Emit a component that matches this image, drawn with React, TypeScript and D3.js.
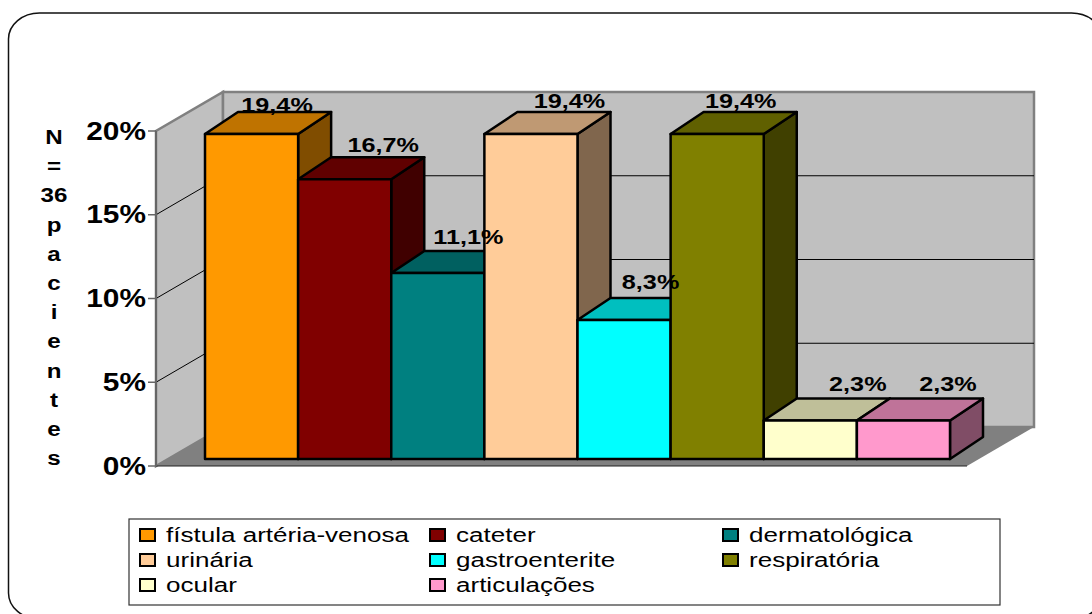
import React from "react";
import * as d3 from "d3";

const categories = [
  "fístula artéria-venosa",
  "cateter",
  "dermatológica",
  "urinária",
  "gastroenterite",
  "respiratória",
  "ocular",
  "articulações",
];
const values = [19.4, 16.7, 11.1, 19.4, 8.3, 19.4, 2.3, 2.3];
const valueLabels = ["19,4%", "16,7%", "11,1%", "19,4%", "8,3%", "19,4%", "2,3%", "2,3%"];
const barColors = ["#FF9900", "#800000", "#008080", "#FFCC99", "#00FFFF", "#808000", "#FFFFCC", "#FF99CC"];
const ticks = [0, 5, 10, 15, 20];
const titleLines = ["N", "=", "36", "p", "a", "c", "i", "e", "n", "t", "e", "s"];

// label nudges, the original chart placed them unevenly
const labelDx = [9, 22, 14, 22, 10, 7, 31, 28];
const labelDy = [-21, -26, -28, -25, -30, -25, -28, -28];

const width = 1092;
const height = 614;

// box geometry
const wallLeft = 156;
const wallRight = 967;
const axisBottom = 466;
const axisTop = 131;
const depthX = 67;
const depthY = -39;
const barBase = 459;
const barDepthX = 33;
const barDepthY = -22;

const shade = (c: string, k: number) => {
  const rgb = d3.rgb(c);
  return d3.rgb(rgb.r * k, rgb.g * k, rgb.b * k).formatHex();
};

const poly = (pts: [number, number][]) => d3.line()(pts) + "Z";

// the source picture is stretched sideways, so text is too
const Stretched = ({ x, y, sx, anchor, size, weight, children }: any) => (
  <text
    transform={`translate(${x},${y}) scale(${sx},1)`}
    textAnchor={anchor}
    fontSize={size}
    fontWeight={weight}
    fontFamily="'Liberation Sans', Arial, sans-serif"
    fill="#000"
  >
    {children}
  </text>
);

export default function App() {
  const axisY = d3.scaleLinear().domain([0, 20]).range([axisBottom, axisTop]);
  const barH = axisBottom - axisTop;
  const barY = d3.scaleLinear().domain([0, 20]).range([barBase, barBase - barH]);
  const x = d3.scaleBand().domain(categories).range([205, 950]).padding(0);

  const legendX = [140, 430, 723];
  const legendY = [529, 554, 579];

  return (
    <svg
      width={width}
      height={height}
      viewBox={`0 0 ${width} ${height}`}
      style={{ position: "absolute", left: 0, top: 0, background: "#fff" }}
    >
      <rect x={8.5} y={13} width={1094} height={606} rx={31} ry={26} fill="#fff" stroke="#111" strokeWidth={1.5} />

      {/* walls and floor */}
      <path
        d={poly([
          [wallLeft, axisBottom],
          [wallLeft, axisTop],
          [wallLeft + depthX, axisTop + depthY],
          [wallLeft + depthX, axisBottom + depthY],
        ])}
        fill="#C0C0C0"
        stroke="#808080"
        strokeWidth={2.5}
      />
      <path
        d={poly([
          [wallLeft + depthX, axisTop + depthY],
          [wallRight + depthX, axisTop + depthY],
          [wallRight + depthX, axisBottom + depthY],
          [wallLeft + depthX, axisBottom + depthY],
        ])}
        fill="#C0C0C0"
        stroke="#808080"
        strokeWidth={2.5}
      />
      <path
        d={poly([
          [wallLeft, axisBottom],
          [wallLeft + depthX, axisBottom + depthY],
          [wallRight + depthX, axisBottom + depthY],
          [wallRight, axisBottom],
        ])}
        fill="#808080"
      />

      {/* gridlines */}
      {ticks.slice(1, -1).map((t) => (
        <path
          key={t}
          d={
            d3.line()([
              [wallLeft, axisY(t)],
              [wallLeft + depthX, axisY(t) + depthY],
              [wallRight + depthX, axisY(t) + depthY],
            ]) as string
          }
          fill="none"
          stroke="#000"
          strokeWidth={1}
        />
      ))}

      {/* axis */}
      <line x1={wallLeft} x2={wallRight} y1={axisBottom} y2={axisBottom} stroke="#222" strokeWidth={1.2} />
      <line x1={wallLeft} x2={wallLeft} y1={axisTop} y2={axisBottom} stroke="#666" strokeWidth={2} />
      {ticks.map((t) => (
        <g key={t}>
          <line x1={148} x2={wallLeft} y1={axisY(t)} y2={axisY(t)} stroke="#666" strokeWidth={1.5} />
          <Stretched x={146} y={axisY(t) + 8.5} sx={1.17} anchor="end" size={25.5} weight="bold">
            {t}%
          </Stretched>
        </g>
      ))}

      {/* bars */}
      {categories.map((c, i) => {
        const x0 = x(c) as number;
        const x1 = x0 + x.bandwidth();
        const top = barY(values[i]);
        const stroke = { stroke: "#000", strokeWidth: 2.5, strokeLinejoin: "round" as const };
        return (
          <g key={c}>
            <path
              d={poly([
                [x1, top],
                [x1 + barDepthX, top + barDepthY],
                [x1 + barDepthX, barBase + barDepthY],
                [x1, barBase],
              ])}
              fill={shade(barColors[i], 0.5)}
              {...stroke}
            />
            <path
              d={poly([
                [x0, top],
                [x0 + barDepthX, top + barDepthY],
                [x1 + barDepthX, top + barDepthY],
                [x1, top],
              ])}
              fill={shade(barColors[i], 0.75)}
              {...stroke}
            />
            <rect x={x0} y={top} width={x.bandwidth()} height={barBase - top} fill={barColors[i]} {...stroke} />
          </g>
        );
      })}

      {/* value labels */}
      {categories.map((c, i) => (
        <Stretched
          key={c}
          x={(x(c) as number) + x.bandwidth() / 2 + barDepthX / 2 + labelDx[i]}
          y={barY(values[i]) + barDepthY + labelDy[i] + 21}
          sx={1.2}
          anchor="middle"
          size={21}
          weight="bold"
        >
          {valueLabels[i]}
        </Stretched>
      ))}

      {/* axis title, one letter per line */}
      {titleLines.map((s, i) => (
        <Stretched key={i} x={54} y={144 + i * 29.2} sx={1.15} anchor="middle" size={21} weight="bold">
          {s}
        </Stretched>
      ))}

      {/* legend */}
      <rect x={129} y={519} width={871} height={86} fill="#fff" stroke="#333" strokeWidth={1.2} />
      {categories.map((c, i) => {
        const lx = legendX[i % 3];
        const ly = legendY[Math.floor(i / 3)];
        return (
          <g key={c}>
            <rect x={lx} y={ly} width={15} height={12} fill={barColors[i]} stroke="#000" strokeWidth={2} />
            <Stretched x={lx + 26} y={ly + 13} sx={1.24} anchor="start" size={21}>
              {c}
            </Stretched>
          </g>
        );
      })}
    </svg>
  );
}
